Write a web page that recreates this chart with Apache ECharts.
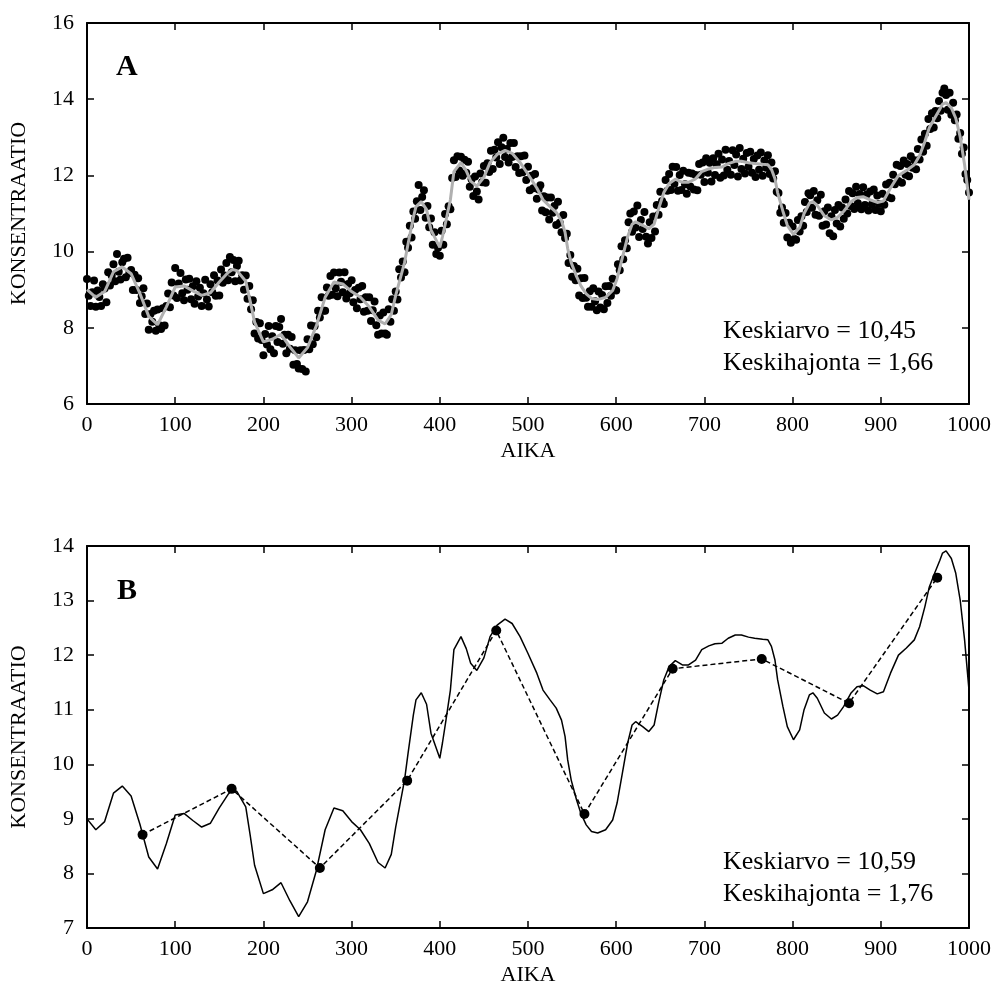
<!DOCTYPE html>
<html><head><meta charset="utf-8">
<script src="https://cdn.jsdelivr.net/npm/echarts@6/dist/echarts.min.js"></script>
<style>html,body{margin:0;padding:0;background:#fff}#c{width:994px;height:991px}</style>
</head><body><div id="c"></div>
<script>
// Smoothed curve (same in A as grey line, in B as black line)
const curveT = [0,10,20,30,40,50,60,70,80,90,100,110,120,130,140,150,160,165,170,180,185,190,200,210,220,230,240,250,260,270,280,290,300,310,320,330,338,345,350,360,364,370,373,379,385,390,400,403,407,412,416,424,430,435,442,450,457,465,474,482,491,500,510,517,525,532,538,542,545,549,555,560,566,572,579,588,596,601,607,613,618,622,630,637,643,648,654,660,667,675,682,690,697,705,712,720,727,735,742,750,757,766,772,776,780,783,789,794,801,808,813,819,823,828,836,844,851,858,866,873,880,888,896,903,911,920,929,938,944,950,955,961,967,970,974,980,985,990,995,1000];
const curveV = [9.00,8.80,8.95,9.47,9.60,9.42,8.90,8.30,8.08,8.55,9.07,9.10,8.97,8.85,8.92,9.20,9.45,9.53,9.50,9.22,8.70,8.15,7.63,7.70,7.83,7.50,7.21,7.48,8.05,8.80,9.20,9.15,8.95,8.80,8.55,8.20,8.10,8.35,8.85,9.71,10.20,10.90,11.18,11.31,11.10,10.57,10.11,10.39,10.81,11.36,12.10,12.34,12.12,11.85,11.72,11.95,12.34,12.55,12.66,12.58,12.34,12.03,11.67,11.36,11.18,11.03,10.81,10.51,10.08,9.71,9.35,9.10,8.89,8.77,8.74,8.80,8.98,9.29,9.84,10.39,10.72,10.78,10.69,10.60,10.72,11.12,11.55,11.79,11.90,11.82,11.82,11.91,12.10,12.17,12.21,12.22,12.31,12.37,12.37,12.33,12.31,12.29,12.28,12.16,11.91,11.55,11.06,10.69,10.45,10.63,11.00,11.27,11.31,11.21,10.94,10.83,10.90,11.06,11.30,11.42,11.44,11.36,11.29,11.33,11.67,12.00,12.13,12.28,12.52,12.89,13.25,13.50,13.74,13.87,13.91,13.77,13.50,13.01,12.28,11.36];

// Raw observations in panel A (one every 2 time units, t = 0..1000)
const scatterStep = 2;
const scatterV = [
9.28,8.84,8.57,8.93,9.24,8.55,8.98,8.81,8.57,9.14,
9.03,8.67,9.46,9.11,9.37,9.67,9.22,9.94,9.47,9.27,
9.72,9.81,9.33,9.84,9.44,9.52,8.99,9.39,8.99,9.30,
8.65,8.83,9.04,8.36,8.64,7.95,8.36,8.16,8.45,7.92,
8.48,8.07,7.97,8.51,8.06,8.57,8.90,8.54,9.19,8.85,
9.57,8.78,9.16,9.44,8.91,8.72,9.27,9.00,9.29,8.75,
9.09,8.63,9.22,8.82,9.05,8.57,8.91,9.26,8.74,8.56,
9.14,8.93,9.38,8.84,9.24,8.85,9.53,9.18,9.37,9.70,
9.25,9.86,9.46,9.78,9.22,9.62,9.76,9.24,9.38,9.00,
9.37,8.76,9.10,8.49,8.72,7.85,8.15,7.72,8.12,7.68,
7.28,7.84,7.56,8.05,7.44,7.78,7.33,8.05,7.63,8.02,
8.23,7.58,7.82,7.33,7.82,7.45,7.76,7.03,7.41,7.05,
6.93,7.41,6.92,7.42,6.85,7.70,7.44,8.06,7.57,8.04,
7.75,8.45,8.27,8.80,8.45,8.45,9.06,8.84,9.36,8.87,
9.45,9.04,8.83,9.45,9.21,8.93,9.46,8.77,9.15,8.91,
9.25,8.67,8.99,8.51,9.05,8.75,9.10,8.42,8.80,8.45,
8.80,8.18,8.46,8.69,8.07,7.82,8.32,7.85,8.40,7.85,
7.82,8.49,8.16,8.75,8.45,8.95,8.74,9.54,9.32,9.74,
9.46,10.26,10.10,10.68,10.37,11.05,10.86,11.32,11.75,11.09,
11.43,11.61,10.89,11.20,10.64,10.87,10.18,10.51,9.94,10.10,
9.89,10.55,10.18,10.99,10.72,11.19,11.11,11.93,12.40,11.96,
12.50,12.13,12.49,11.99,12.41,12.07,12.36,11.70,11.90,11.46,
11.97,11.58,11.37,12.05,11.82,12.25,11.81,12.32,12.09,12.65,
12.17,12.67,12.47,12.87,12.30,12.74,12.99,12.48,12.69,12.34,
12.85,12.48,12.85,12.22,12.50,12.06,12.50,12.08,12.52,11.88,
12.23,11.61,11.99,11.66,12.04,11.39,11.63,11.74,11.08,11.45,
11.03,11.42,10.84,11.42,11.02,11.20,10.70,11.31,10.76,10.51,
10.96,10.36,10.47,9.70,9.91,9.34,9.62,9.25,9.55,8.85,
9.30,8.78,9.31,8.79,8.55,8.96,8.55,9.04,8.70,8.46,
8.95,8.53,8.86,8.49,9.09,8.65,9.10,8.84,9.29,9.00,
8.98,9.67,9.51,10.14,9.80,10.30,10.09,10.77,11.00,10.52,
11.05,10.63,11.21,10.38,10.83,10.59,11.04,10.39,10.21,10.77,
10.36,10.92,10.53,11.22,10.97,11.57,11.33,11.25,11.88,11.60,
12.04,11.62,12.23,11.78,12.22,11.60,12.01,11.62,12.12,11.77,
11.52,12.07,11.71,12.05,11.63,12.01,11.61,12.30,12.02,12.34,
11.83,12.45,12.07,12.33,11.84,12.45,12.01,12.29,12.57,11.94,
12.42,12.00,12.67,12.15,12.38,12.02,12.66,12.27,12.55,11.97,
12.72,12.17,12.44,12.05,12.59,12.23,12.62,12.07,12.43,11.96,
12.52,12.15,12.60,11.99,12.39,12.20,12.53,12.04,12.34,11.92,
12.11,11.57,11.54,11.02,11.16,10.76,11.01,10.37,10.76,10.23,
10.66,10.33,10.31,10.83,10.53,10.93,10.68,11.30,11.04,11.53,
11.48,11.15,11.59,10.97,11.35,10.94,11.49,10.68,11.06,10.71,
11.16,10.48,10.93,10.40,11.09,10.74,11.22,10.66,11.16,10.86,
11.37,11.00,11.59,11.20,11.53,11.12,11.70,11.27,11.51,11.11,
11.69,11.22,11.50,11.08,11.58,11.24,11.63,11.09,11.47,11.25,
11.06,11.52,11.23,11.76,11.43,11.81,11.40,12.02,11.77,12.28,
11.85,12.25,11.81,12.39,12.02,12.30,11.98,12.50,12.20,12.40,
12.16,12.69,12.42,12.94,12.62,13.09,12.78,13.48,13.22,13.63,
13.26,13.69,13.50,13.95,13.70,14.17,14.28,14.11,13.72,14.17,
13.59,13.91,13.45,13.60,12.96,13.11,12.57,12.73,12.04,11.88,
11.55
];

// Panel B samples (dashed line with dots)
const sampleT = [63,164,264,363,464,564,664,765,864,964];
const sampleV = [8.71,9.55,8.10,9.70,12.45,9.09,11.75,11.93,11.12,13.42];

const statsA = ['Keskiarvo = 10,45', 'Keskihajonta = 1,66'];
const statsB = ['Keskiarvo = 10,59', 'Keskihajonta = 1,76'];
const xName = 'AIKA', yName = 'KONSENTRAATIO';

const FONT = "'Liberation Serif', 'Times New Roman', serif";
const chart = echarts.init(document.getElementById('c'), null, {renderer:'canvas'});

const curveData = curveT.map((t,i)=>[t,curveV[i]]);
const scatterData = scatterV.map((v,i)=>[i*scatterStep, v]);
const sampleData = sampleT.map((t,i)=>[t,sampleV[i]]);

function xAxes(gi){
  const base = {gridIndex:gi, type:'value', min:0, max:1000, interval:100,
    axisLine:{onZero:false, lineStyle:{color:'#000', width:2}},
    axisTick:{inside:true, length:7, lineStyle:{color:'#000', width:1.5}},
    splitLine:{show:false}};
  return [
    Object.assign({}, base, {position:'bottom',
      axisLabel:{color:'#000', fontFamily:FONT, fontSize:22, margin:10, showMinLabel:true, showMaxLabel:true,
        formatter:v=>String(v)},
      name:xName, nameLocation:'middle', nameGap:36,
      nameTextStyle:{color:'#000', fontFamily:FONT, fontSize:22}}),
    Object.assign({}, base, {position:'top', axisLabel:{show:false}})
  ];
}
function yAxes(gi, min, max, interval){
  const base = {gridIndex:gi, type:'value', min:min, max:max, interval:interval,
    axisLine:{onZero:false, lineStyle:{color:'#000', width:2}},
    axisTick:{inside:true, length:7, lineStyle:{color:'#000', width:1.5}},
    splitLine:{show:false}};
  return [
    Object.assign({}, base, {position:'left',
      axisLabel:{color:'#000', fontFamily:FONT, fontSize:22, margin:13, showMinLabel:true, showMaxLabel:true,
        formatter:v=>String(v)},
      name:yName, nameLocation:'middle', nameGap:57,
      nameTextStyle:{color:'#000', fontFamily:FONT, fontSize:22}}),
    Object.assign({}, base, {position:'right', axisLabel:{show:false}})
  ];
}

const txt = (x,y,s,size,bold)=>({type:'text', x:x, y:y, z:100,
  style:{text:s, fill:'#000', font:(bold?'bold ':'')+size+'px '+FONT, textVerticalAlign:'middle', textAlign:'left'}});

chart.setOption({
  animation:false,
  backgroundColor:'#fff',
  grid:[
    {left:83, top:23, width:890, height:381},
    {left:83, top:546, width:890, height:382}
  ],
  xAxis:[...xAxes(0), ...xAxes(1)],
  yAxis:[...yAxes(0,6,16,2), ...yAxes(1,7,14,1)],
  series:[
    {type:'scatter', xAxisIndex:0, yAxisIndex:0, data:scatterData, symbolSize:8,
      itemStyle:{color:'#000', opacity:1}, z:2, silent:true},
    {type:'line', xAxisIndex:0, yAxisIndex:0, data:curveData, showSymbol:false,
      lineStyle:{color:'#b0b0b0', width:3}, z:3, silent:true},
    {type:'line', xAxisIndex:2, yAxisIndex:2, data:curveData, showSymbol:false,
      lineStyle:{color:'#000', width:1.5}, z:2, silent:true},
    {type:'line', xAxisIndex:2, yAxisIndex:2, data:sampleData, symbol:'circle', symbolSize:10,
      itemStyle:{color:'#000', opacity:1}, lineStyle:{color:'#000', width:1.5, type:[5,3]}, z:3, silent:true}
  ],
  graphic:[
    txt(116, 67, 'A', 30, true),
    txt(117, 591, 'B', 30, true),
    txt(723, 331, statsA[0], 26),
    txt(723, 363, statsA[1], 26),
    txt(723, 862, statsB[0], 26),
    txt(723, 894, statsB[1], 26)
  ]
});
</script></body></html>
